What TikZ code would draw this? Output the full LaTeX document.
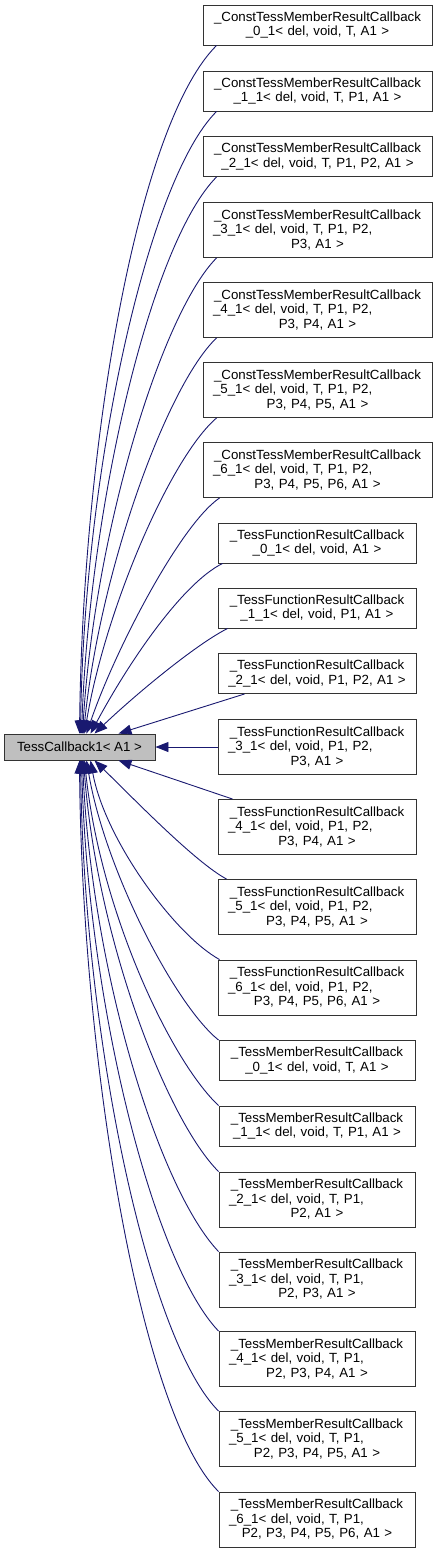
\documentclass[tikz,border=0pt]{standalone}
\usepackage{fontspec}
\setmainfont{Liberation Sans}
\usepackage{tikz}
\usetikzlibrary{arrows.meta}
\definecolor{edgeblue}{HTML}{191970}
\newcommand{\centreline}[1]{\makebox[\linewidth]{#1}}
\tikzset{
  cls/.style={draw=black!80,line width=0.9pt,fill=white,align=left,inner xsep=10pt,inner ysep=0pt,font=\fontsize{13.3}{14.5}\selectfont},
  constcls/.style={cls,text width=209pt},
  funccls/.style={cls,text width=178pt},
  membcls/.style={cls,text width=176pt},
  twoline/.style={minimum height=40pt},
  threeline/.style={minimum height=55pt},
  edge/.style={->,>={Triangle[length=13pt,width=10pt]},color=edgeblue,line width=0.9pt}
}

\begin{document}
\begin{tikzpicture}[x=1pt,y=-1pt]
    \useasboundingbox (0,0) rectangle (437,1553);
    \node[draw=black!80,fill=black!25,line width=0.9pt,minimum width=151pt,minimum height=26pt,font=\fontsize{13.3}{14.5}\selectfont] (base) at (79.5,747) {TessCallback1< A1 >};
    % const member callbacks
    \node[constcls,twoline] (c0) at (317.5,25) {\centreline{\_ConstTessMemberResultCallback}\\\centreline{\_0\_1< del, void, T, A1 >}};
    \node[constcls,twoline] (c1) at (317.5,91) {\centreline{\_ConstTessMemberResultCallback}\\\centreline{\_1\_1< del, void, T, P1, A1 >}};
    \node[constcls,twoline] (c2) at (317.5,156.5) {\centreline{\_ConstTessMemberResultCallback}\\\centreline{\_2\_1< del, void, T, P1, P2, A1 >}};
    \node[constcls,threeline] (c3) at (317.5,230) {\centreline{\_ConstTessMemberResultCallback}\\\_3\_1< del, void, T, P1, P2,\\\centreline{P3, A1 >}};
    \node[constcls,threeline] (c4) at (317.5,310) {\centreline{\_ConstTessMemberResultCallback}\\\_4\_1< del, void, T, P1, P2,\\\centreline{P3, P4, A1 >}};
    \node[constcls,threeline] (c5) at (317.5,390) {\centreline{\_ConstTessMemberResultCallback}\\\_5\_1< del, void, T, P1, P2,\\\centreline{P3, P4, P5, A1 >}};
    \node[constcls,threeline] (c6) at (317.5,470) {\centreline{\_ConstTessMemberResultCallback}\\\_6\_1< del, void, T, P1, P2,\\\centreline{P3, P4, P5, P6, A1 >}};
    % function callbacks
    \node[funccls,twoline] (f0) at (317,543) {\centreline{\_TessFunctionResultCallback}\\\centreline{\_0\_1< del, void, A1 >}};
    \node[funccls,twoline] (f1) at (317,608) {\centreline{\_TessFunctionResultCallback}\\\centreline{\_1\_1< del, void, P1, A1 >}};
    \node[funccls,twoline] (f2) at (317,673.5) {\centreline{\_TessFunctionResultCallback}\\\centreline{\_2\_1< del, void, P1, P2, A1 >}};
    \node[funccls,threeline] (f3) at (317,747) {\centreline{\_TessFunctionResultCallback}\\\_3\_1< del, void, P1, P2,\\\centreline{P3, A1 >}};
    \node[funccls,threeline] (f4) at (317,827) {\centreline{\_TessFunctionResultCallback}\\\_4\_1< del, void, P1, P2,\\\centreline{P3, P4, A1 >}};
    \node[funccls,threeline] (f5) at (317,907) {\centreline{\_TessFunctionResultCallback}\\\_5\_1< del, void, P1, P2,\\\centreline{P3, P4, P5, A1 >}};
    \node[funccls,threeline] (f6) at (317,987.5) {\centreline{\_TessFunctionResultCallback}\\\_6\_1< del, void, P1, P2,\\\centreline{P3, P4, P5, P6, A1 >}};
    % member callbacks
    \node[membcls,twoline] (m0) at (317,1060.5) {\centreline{\_TessMemberResultCallback}\\\centreline{\_0\_1< del, void, T, A1 >}};
    \node[membcls,twoline] (m1) at (317,1126) {\centreline{\_TessMemberResultCallback}\\\centreline{\_1\_1< del, void, T, P1, A1 >}};
    \node[membcls,threeline] (m2) at (317,1199.5) {\centreline{\_TessMemberResultCallback}\\\_2\_1< del, void, T, P1,\\\centreline{P2, A1 >}};
    \node[membcls,threeline] (m3) at (317,1279.5) {\centreline{\_TessMemberResultCallback}\\\_3\_1< del, void, T, P1,\\\centreline{P2, P3, A1 >}};
    \node[membcls,threeline] (m4) at (317,1359) {\centreline{\_TessMemberResultCallback}\\\_4\_1< del, void, T, P1,\\\centreline{P2, P3, P4, A1 >}};
    \node[membcls,threeline] (m5) at (317,1439) {\centreline{\_TessMemberResultCallback}\\\_5\_1< del, void, T, P1,\\\centreline{P2, P3, P4, P5, A1 >}};
    \node[membcls,threeline] (m6) at (317,1519.5) {\centreline{\_TessMemberResultCallback}\\\_6\_1< del, void, T, P1,\\\centreline{P2, P3, P4, P5, P6, A1 >}};
    % edges into the base class
    \draw[edge] ([xshift=14pt]c0.south west) .. controls (137,125) and (83,444) .. (base.north);
    \draw[edge] ([xshift=14pt]c1.south west) .. controls (147,181) and (84,472) .. ([xshift=1pt]base.north);
    \draw[edge] ([xshift=14pt]c2.south west) .. controls (152,242) and (90,500) .. ([xshift=2pt]base.north);
    \draw[edge] ([xshift=14pt]c3.south west) .. controls (162,313) and (95,530) .. ([xshift=3pt]base.north);
    \draw[edge] ([xshift=14pt]c4.south west) .. controls (167,385) and (100,570) .. ([xshift=4pt]base.north);
    \draw[edge] ([xshift=14pt]c5.south west) .. controls (170,458) and (105,610) .. ([xshift=5pt]base.north);
    \draw[edge] ([xshift=17pt]c6.south west) .. controls (180,525) and (115,650) .. ([xshift=7pt]base.north);
    \draw[edge] ([xshift=5pt]f0.south west) .. controls (183,583) and (130,660) .. ([xshift=11pt]base.north);
    \draw[edge] ([xshift=10pt]f1.south west) .. controls (195,645) and (135,695) .. ([xshift=15pt]base.north);
    \draw[edge] ([xshift=27pt]f2.south west) -- ([xshift=39pt]base.north);
    \draw[edge] (f3.west) -- (base.east);
    \draw[edge] ([xshift=15pt]f4.north west) -- ([xshift=39pt]base.south);
    \draw[edge] ([xshift=9pt]f5.north west) .. controls (195,862) and (135,800) .. ([xshift=15pt]base.south);
    \draw[edge] ([xshift=2pt]f6.north west) .. controls (175,935) and (105,840) .. ([xshift=11pt]base.south);
    \draw[edge] (m0.north west) .. controls (175,1005) and (105,870) .. ([xshift=7pt]base.south);
    \draw[edge] (m1.north west) .. controls (170,1060) and (100,910) .. ([xshift=5pt]base.south);
    \draw[edge] (m2.north west) .. controls (167,1120) and (97,940) .. ([xshift=4pt]base.south);
    \draw[edge] (m3.north west) .. controls (160,1190) and (92,975) .. ([xshift=3pt]base.south);
    \draw[edge] (m4.north west) .. controls (155,1265) and (88,1010) .. ([xshift=2pt]base.south);
    \draw[edge] (m5.north west) .. controls (148,1340) and (84,1040) .. ([xshift=1pt]base.south);
    \draw[edge] (m6.north west) .. controls (140,1413) and (82,1060) .. (base.south);
\end{tikzpicture}
\end{document}
